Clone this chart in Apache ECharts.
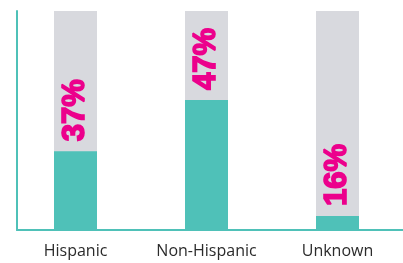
<!DOCTYPE html>
<html>
<head>
<meta charset="utf-8">
<script src="https://cdn.jsdelivr.net/npm/echarts@6/dist/echarts.min.js"></script>
<style>html,body{margin:0;padding:0;background:#fff}#c{width:403px;height:263px}</style>
</head>
<body>
<div id="c"></div>
<script>
var categories = ['Hispanic', 'Non-Hispanic', 'Unknown'];
var barValues = [36, 59.4, 6.4];
var barLabels = ['37%', '47%', '16%'];

var teal = '#4FC1B8';
var chart = echarts.init(document.getElementById('c'), null, {renderer: 'canvas'});
chart.setOption({
  animation: false,
  grid: [
    {left: 10, right: 0, top: 11, bottom: 33},
    {left: 17, right: 0, top: 11, bottom: 33}
  ],
  xAxis: [
    {
      type: 'category', gridIndex: 0, data: categories,
      axisLine: {show: false}, axisTick: {show: false},
      axisLabel: {color: '#2b2b2b', fontFamily: 'Open Sans', fontSize: 16, margin: 13}
    },
    {
      type: 'value', gridIndex: 1, min: 0, max: 1,
      axisLine: {show: true, lineStyle: {color: teal, width: 2}},
      axisTick: {show: false}, axisLabel: {show: false}, splitLine: {show: false}
    }
  ],
  yAxis: [
    {
      type: 'value', gridIndex: 0, min: 0, max: 100,
      axisLine: {show: false}, axisTick: {show: false}, axisLabel: {show: false}, splitLine: {show: false}
    },
    {
      type: 'value', gridIndex: 1, min: 0, max: 1,
      axisLine: {show: true, lineStyle: {color: teal, width: 2}},
      axisTick: {show: false}, axisLabel: {show: false}, splitLine: {show: false}
    }
  ],
  series: [{
    type: 'bar', xAxisIndex: 0, yAxisIndex: 0,
    data: barValues,
    barWidth: 43,
    itemStyle: {color: teal},
    showBackground: true,
    backgroundStyle: {color: '#D8D9DE'},
    z: 1,
    label: {
      show: true,
      position: 'top',
      distance: 10,
      rotate: 90,
      align: 'left',
      verticalAlign: 'middle',
      color: '#EC008C',
      fontFamily: 'Liberation Sans',
      fontWeight: 'bold',
      fontSize: 31,
      textBorderColor: '#EC008C',
      textBorderWidth: 1.6,
      formatter: function (p) { return barLabels[p.dataIndex]; }
    }
  }]
});
</script>
</body>
</html>
